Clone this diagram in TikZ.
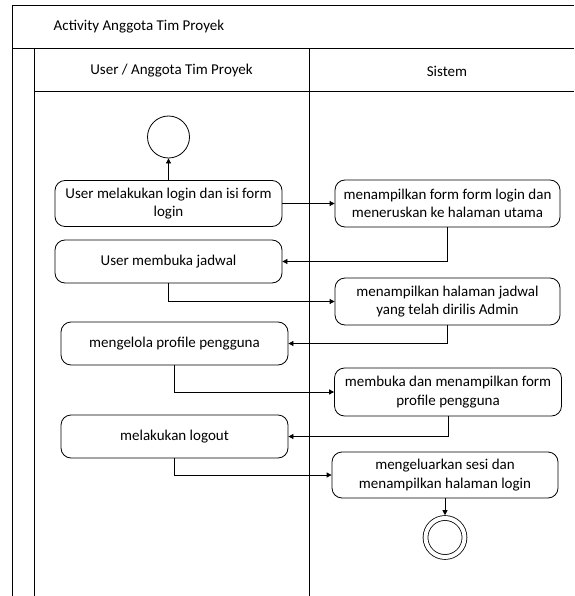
\documentclass[tikz,border=0pt]{standalone}
\usepackage{fontspec}
\setmainfont{Carlito}
\usetikzlibrary{arrows.meta}

\begin{document}
\begin{tikzpicture}[x=1pt,y=-1pt,line width=0.8pt]
\tikzset{every node/.style={align=center, font=\fontsize{15}{18.5}\selectfont},
  act/.style={draw, rounded corners=10pt, minimum width=227pt, minimum height=45pt, inner sep=2pt},
  flow/.style={-{Triangle[length=5pt,width=5pt]}},
  lane/.style={line width=1pt}}

\useasboundingbox (0,0) rectangle (574,596);
\draw [lane] (574,6) -- (12,6) -- (12,596);
\draw [lane] (12,49) -- (574,49);
\draw [lane] (34,49) -- (34,596);
\draw [lane] (34,92) -- (574,92);
\draw [lane] (309,49) -- (309,596);

\node (title) [anchor=west] at (50,27) {Activity Anggota Tim Proyek};
\node (userlane) at (171.5,71) {User / Anggota Tim Proyek};
\node (syslane) at (447,71) {Sistem};

\node (start) [draw, circle, minimum size=42pt, inner sep=0pt] at (168.5,137) {};
\node (login) [act, minimum height=46pt] at (168.5,203.5) {User melakukan login dan isi form\\login};
\node (formlogin) [act, minimum width=225pt, minimum height=47pt] at (447.5,203.5) {menampilkan form form login dan\\meneruskan ke halaman utama};
\node (jadwal) [act, minimum height=43pt] at (168.5,261.5) {User membuka jadwal};
\node (tampiljadwal) [act, minimum width=225pt, minimum height=47pt] at (447.5,301.5) {menampilkan halaman jadwal\\yang telah dirilis Admin};
\node (profile) [act, minimum height=43pt] at (174.5,343.5) {mengelola profile pengguna};
\node (formprofile) [act, minimum height=48pt] at (448,392) {membuka dan menampilkan form\\profile pengguna};
\node (logout) [act, minimum height=43pt] at (174.5,436.5) {melakukan logout};
\node (keluar) [act, minimum width=226pt, minimum height=46pt] at (445,475) {mengeluarkan sesi dan\\menampilkan halaman login};
\node (finish) [draw, circle, double, double distance=4pt, minimum size=39pt, inner sep=0pt, outer sep=2.8pt] at (445,537.5) {};

\draw [flow] (login.north) -- (start.south);
\draw [flow] (login.east) -- (formlogin.west);
\draw [flow] (formlogin.south) |- (jadwal.east);
\draw [flow] (jadwal.south) |- (tampiljadwal.west);
\draw [flow] (tampiljadwal.south) |- (profile.east);
\draw [flow] (profile.south) |- (formprofile.west);
\draw [flow] (formprofile.south) |- (logout.east);
\draw [flow] (logout.south) |- (keluar.west);
\draw [flow] (keluar.south) -- (finish.north);
\end{tikzpicture}
\end{document}
